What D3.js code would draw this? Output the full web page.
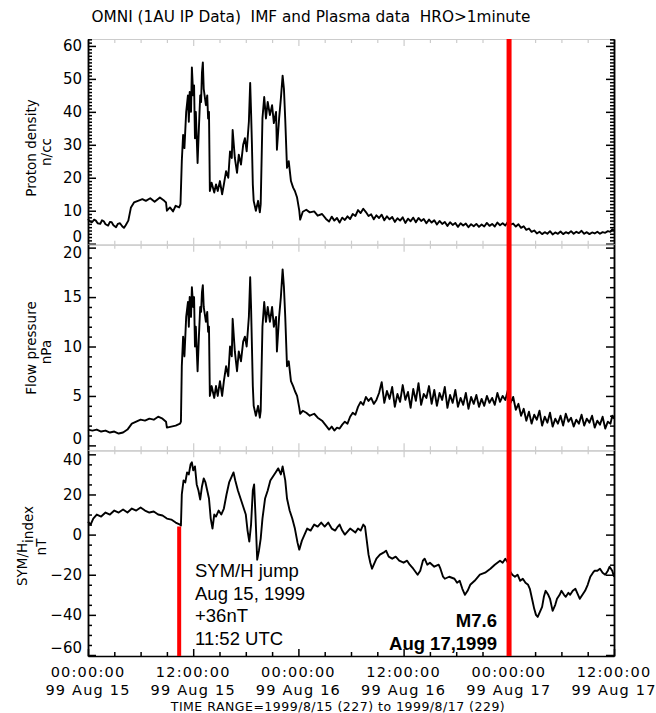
<!DOCTYPE html>
<html>
<head>
<meta charset="utf-8">
<script src="https://cdn.jsdelivr.net/npm/d3@7"></script>
<style>
  body { margin: 0; background: #fff; }
  svg { display: block; font-family: "DejaVu Sans", sans-serif; }
</style>
</head>
<body>
<svg id="chart" width="656" height="713"></svg>
<script>
// values: [hours since 1999-08-15 00:00 UT, value]
const density = [
  [0,7.5],[0.2,6.8],[0.46,6.5],[0.7,7.3],[0.9,7],[1.1,6.2],[1.4,6],[1.6,7.1],[1.8,6.8],[2.0,5.9],
  [2.3,5.5],[2.5,6.6],[2.7,6.5],[2.9,5.6],[3.2,5],[3.4,6.0],[3.65,6.2],[3.9,5.3],[4.1,4.8],[4.3,5.6],
  [4.6,7],[4.9,11],[5.25,12.5],[5.7,13],[6.2,13.5],[6.6,13],[7.1,13.8],[7.6,12.7],[8.2,14],[8.7,13],
  [8.9,12.5],[9.0,10],[9.35,11],[9.7,9.8],[10.0,11.5],[10.4,11],[10.55,12],[10.7,25],[10.85,33],[11.0,29],
  [11.2,40],[11.4,45],[11.5,37],[11.6,46],[11.75,40],[11.85,53.5],[12.0,45],[12.1,48],[12.2,32],[12.3,40],
  [12.5,24.5],[12.65,35],[12.8,45],[12.9,43],[13.0,52],[13.1,55],[13.2,47],[13.45,42],[13.6,45],[13.7,38],
  [13.8,40],[13.9,16],[14.1,18.5],[14.4,15.5],[14.6,18],[14.8,16],[15.05,19],[15.3,15],[15.5,18],[15.75,22],
  [16.0,20],[16.2,28],[16.4,26],[16.5,34.5],[16.75,26],[17.0,21.5],[17.2,27],[17.45,24],[17.7,30],[17.9,32],
  [18.1,28],[18.35,37],[18.5,48.8],[18.6,40],[18.7,30],[18.8,18],[18.9,13],[19.15,10],[19.4,13],[19.6,9.5],
  [19.7,12],[19.9,38],[20.1,44.5],[20.3,38],[20.5,43],[20.75,39],[21.0,42],[21.2,36.6],[21.45,40],[21.55,28.5],
  [21.8,38],[22.0,44],[22.2,51],[22.35,47],[22.5,37.6],[22.7,23],[22.9,25],[23.15,19],[23.4,17],[23.6,16],
  [23.85,14],[24.1,10],[24.2,7.3],[24.5,9.7],[24.9,10.3],[25.3,9.5],[25.8,9.8],[26.2,8.5],[26.7,9],[27.15,7.5],
  [27.5,6.7],[27.8,8.2],[28.1,7.0],[28.4,7.8],[28.7,6.4],[29.0,7.9],[29.3,7.2],[29.6,8.3],[29.9,7.5],[30.2,9.0],
  [30.5,8.4],[30.8,10.2],[31.1,9.3],[31.4,10.6],[31.7,9.6],[32.0,8.4],[32.3,8.9],[32.6,7.4],[32.9,8.6],[33.2,7.8],
  [33.5,8.8],[33.8,7.1],[34.1,8.3],[34.4,7.4],[34.7,8.1],[35.0,6.6],[35.3,7.7],[35.6,7.0],[35.9,8.0],[36.2,6.3],
  [36.5,7.6],[36.8,6.8],[37.1,7.9],[37.4,6.5],[37.7,7.8],[38.0,6.9],[38.3,7.5],[38.6,6.2],[38.9,7.3],[39.2,6.4],
  [39.5,7.1],[39.8,5.8],[40.1,6.9],[40.4,6.0],[40.7,6.6],[41.0,5.4],[41.3,6.5],[41.6,5.7],[41.9,6.3],[42.2,5.1],
  [42.5,6.2],[42.8,5.5],[43.1,6.1],[43.4,5.0],[43.7,5.9],[44.0,5.3],[44.3,6.0],[44.6,5.1],[44.9,5.8],[45.2,5.2],
  [45.5,6.3],[45.8,5.4],[46.1,6.0],[46.4,5.2],[46.7,6.4],[47.0,5.6],[47.3,6.2],[47.6,5.5],[47.9,6.6],[48.2,5.8],
  [48.5,6.1],[48.8,5.2],[49.1,5.9],[49.4,4.8],[49.7,5.3],[50.0,4.2],[50.3,4.6],[50.6,3.6],[50.9,4.0],[51.2,3.1],
  [51.5,3.6],[51.8,2.9],[52.1,3.5],[52.4,3.0],[52.7,3.8],[53.0,2.8],[53.3,3.4],[53.6,3.0],[53.9,3.7],[54.2,2.9],
  [54.5,3.5],[54.8,3.1],[55.1,3.8],[55.4,3.0],[55.7,3.6],[56.0,3.2],[56.3,3.9],[56.6,3.0],[56.9,3.5],[57.2,2.9],
  [57.5,3.4],[57.8,3.1],[58.1,3.6],[58.4,3.0],[58.7,3.5],[59.0,3.3],[59.3,3.8],[59.6,3.6],[59.8,4.4],[60,4.0]
];

const pressure = [
  [0,1.6],[0.5,1.5],[1,1.6],[1.5,1.4],[2,1.5],[2.5,1.3],[3,1.4],[3.5,1.2],[4,1.3],[4.5,1.6],
  [5,2.2],[5.5,2.4],[6,2.6],[6.5,2.5],[7,2.7],[7.5,2.6],[8,2.9],[8.5,2.7],[8.9,2.4],[9,1.8],
  [9.5,1.9],[10,2.0],[10.5,2.2],[10.6,2.4],[10.7,8],[10.85,11],[11,9],[11.2,13],[11.4,14.5],[11.5,12],
  [11.6,15],[11.75,13],[11.85,16],[12,14],[12.1,15],[12.2,10],[12.3,12],[12.5,7.5],[12.65,11],[12.8,14],
  [12.9,13.5],[13,15.5],[13.1,16.2],[13.2,14],[13.45,12.5],[13.6,13.5],[13.7,11.5],[13.8,12],[13.9,5],[14.1,6],
  [14.4,4.8],[14.6,6],[14.8,5],[15.05,6.5],[15.3,5],[15.5,6.5],[15.75,8],[16,7],[16.2,10],[16.4,9],
  [16.5,12.8],[16.75,9.5],[17,7.5],[17.2,9.5],[17.45,8.5],[17.7,10.5],[17.9,11],[18.1,10],[18.35,13],[18.5,17],
  [18.6,14],[18.7,10],[18.8,6],[18.9,4],[19.15,3],[19.4,4],[19.6,2.8],[19.7,3.5],[19.9,12],[20.1,14.5],
  [20.3,12.5],[20.5,14],[20.75,12.5],[21,14],[21.2,12],[21.45,13],[21.55,9.5],[21.8,13],[22,15],[22.2,17.8],
  [22.35,16],[22.5,13],[22.7,8],[22.9,8.5],[23.15,6.5],[23.4,6],[23.6,5.5],[23.85,5],[24.1,3.8],[24.2,3.2],
  [24.5,3.5],[24.9,3.3],[25.3,3.0],[25.8,3.2],[26.2,2.8],[26.7,2.5],[27.15,2.0],
  [27.5,1.6],[27.8,1.9],[28.1,1.5],[28.4,1.8],[28.7,1.7],[29.0,2.1],[29.3,2.4],[29.6,2.2],[29.9,2.9],[30.2,3.3],
  [30.5,3.1],[30.8,3.9],[31.1,4.4],[31.4,4.1],[31.7,4.9],[32.0,4.5],[32.3,4.8],[32.6,4.2],[32.9,4.6],[33.2,5.3],
  [33.5,6.4],[33.8,4.3],[34.1,5.5],[34.4,4.7],[34.7,5.9],[35.0,3.9],[35.3,5.2],[35.6,4.4],[35.9,6.1],[36.2,4.6],
  [36.5,5.4],[36.8,3.8],[37.1,5.7],[37.4,4.5],[37.7,6.3],[38.0,4.1],[38.3,5.2],[38.6,4.8],[38.9,6.0],[39.2,4.2],
  [39.5,5.6],[39.8,4.0],[40.1,5.3],[40.4,4.6],[40.7,5.9],[41.0,3.8],[41.3,5.1],[41.6,4.3],[41.9,5.6],[42.2,3.9],
  [42.5,4.8],[42.8,4.1],[43.1,5.3],[43.4,3.7],[43.7,4.9],[44.0,4.2],[44.3,5.1],[44.6,3.9],[44.9,4.7],[45.2,4.0],
  [45.5,5.0],[45.8,4.3],[46.1,4.8],[46.4,4.1],[46.7,5.3],[47.0,4.4],[47.3,5.0],[47.6,4.6],[47.9,5.6],[48.2,4.3],
  [48.5,4.9],[48.8,3.6],[49.1,4.2],[49.4,3.0],[49.7,3.7],[50.0,2.5],[50.3,3.4],[50.6,2.2],[50.9,3.1],[51.2,2.6],
  [51.5,3.5],[51.8,2.0],[52.1,2.9],[52.4,2.3],[52.7,3.3],[53.0,1.9],[53.3,2.7],[53.6,2.2],[53.9,3.0],[54.2,2.0],
  [54.5,3.2],[54.8,2.4],[55.1,2.8],[55.4,1.9],[55.7,2.6],[56.0,2.2],[56.3,3.1],[56.6,2.0],[56.9,2.7],[57.2,2.3],
  [57.5,3.0],[57.8,1.8],[58.1,2.5],[58.4,2.1],[58.7,2.9],[59.0,1.7],[59.3,2.4],[59.6,2.2],[59.8,3.0],[60,2.7]
];

const symh = [
  [0,6.5],[0.3,5],[0.6,8],[1,10],[1.5,9],[2,11],[2.5,10],[3,12],[3.5,11],[4,12.5],
  [4.5,11],[5,13],[5.5,12],[6,13.5],[6.5,12],[7,11],[7.5,11.5],[8,10],[8.5,9.5],[9,8],
  [9.5,7.5],[10,6],[10.5,5],[10.6,4.5],[10.7,20],[10.9,27],[11.1,26],[11.3,31],[11.5,30],[11.7,35],
  [11.85,36],[12,32],[12.2,34],[12.4,25],[12.6,22],[12.8,17.5],[13,24],[13.2,28],[13.4,26],[13.6,22],
  [13.8,18],[14,8],[14.2,3],[14.4,10],[14.6,9],[14.9,12],[15.2,10],[15.5,13],[15.8,20],[16.1,26],
  [16.4,29],[16.6,31],[16.8,27],[17.1,22],[17.4,18],[17.7,14],[18,10],[18.2,2],[18.4,-3.5],[18.6,5],
  [18.8,22],[18.95,25],[19.1,10],[19.3,-12.5],[19.5,-8],[19.7,-2],[19.9,8],[20.2,18],[20.5,22],[20.8,27],
  [21.1,29],[21.4,31],[21.7,33],[22,30],[22.2,34],[22.5,27],[22.7,18],[23,12],[23.3,8],[23.6,3],
  [23.9,-4],[24.1,-7.5],[24.4,-3],[24.7,0],[25,3],[25.4,2],[25.8,5],[26.2,4],[26.6,6],[27,4],
  [27.4,6],[27.8,3],[28.2,2],[28.5,4],[28.7,5],[29.0,2],[29.3,0],[29.6,1.5],[29.9,3],[30.2,2],
  [30.5,1],[30.8,3],[31.1,2],[31.4,5],[31.6,4],[31.8,-3],[32,-10],[32.2,-14],[32.4,-17],[32.6,-15],
  [32.9,-12],[33.1,-11],[33.3,-10],[33.7,-9],[34,-8],[34.3,-11],[34.7,-12],[35.1,-11],[35.5,-13],[36,-14],
  [36.4,-13],[36.7,-15],[37.1,-17],[37.6,-20],[37.9,-18],[38.2,-13],[38.4,-12],[38.7,-15],[39,-14],[39.5,-16],
  [40,-15],[40.2,-17],[40.5,-21],[40.7,-22],[41.2,-21],[41.8,-22],[42.1,-24],[42.4,-23],[42.7,-27],[43,-30],
  [43.3,-28],[43.6,-25],[44.1,-23],[44.7,-20],[45.3,-19],[45.9,-17],[46.4,-15],[47,-13],[47.3,-14],[47.6,-12],
  [47.9,-14],[48.1,-18],[48.4,-20],[48.7,-21],[49,-20],[49.3,-23],[49.6,-22],[49.9,-24],[50.2,-25],[50.4,-27],
  [50.7,-33],[50.9,-37],[51.1,-40],[51.3,-41],[51.6,-38],[51.8,-36],[52,-31],[52.2,-28],[52.5,-30],[52.7,-32],
  [52.9,-36],[53,-38],[53.3,-35],[53.5,-32],[53.8,-30],[54,-28],[54.3,-30],[54.5,-31],[54.8,-29],[55,-30],
  [55.3,-28],[55.6,-27],[55.9,-30],[56.1,-32],[56.4,-30],[56.7,-28],[57,-25],[57.3,-21],[57.6,-19],[57.8,-18],
  [58.1,-18],[58.4,-17],[58.7,-19],[59,-20],[59.3,-18],[59.5,-16],[59.8,-18],[60,-21]
];

const xTickHours = [0, 12, 24, 36, 48, 60];
const xTickTimes = ['00:00:00', '12:00:00', '00:00:00', '12:00:00', '00:00:00', '12:00:00'];
const xTickDates = ['99 Aug 15', '99 Aug 15', '99 Aug 16', '99 Aug 16', '99 Aug 17', '99 Aug 17'];

const jumpHour = 10.4;     // red marker in the SYM/H panel
const jumpLevel = 4;
const quakeHour = 48.03;   // Izmit earthquake
const jumpNote = ['SYM/H jump', 'Aug 15, 1999', '+36nT', '11:52 UTC'];
const quakeNote = ['M7.6', 'Aug 17,1999'];

const svg = d3.select('#chart');
svg.append('rect').attr('width', 656).attr('height', 713).attr('fill', '#fff');

const plotL = 88, plotR = 614, plotT = 39, plotB = 656;
const ph = (plotB - plotT) / 3;

const x = d3.scaleLinear().domain([0, 60]).range([plotL, plotR]);

const panels = [
  { data: density, domain: [-0.3, 62.1], major: 10, minor: 1, title: ['Proton density', 'n/cc'], cy: 148 },
  { data: pressure, domain: [-0.5, 20.3], major: 5, minor: 1, title: ['Flow pressure', 'nPa'], cy: 348 },
  { data: symh, domain: [-60.5, 42], major: 20, minor: 5, title: ['SYM/H', 'nT'], cy: 546 }
];

const steps = (lo, hi, s) => d3.range(Math.ceil(lo / s) * s, hi + 1e-9, s);
const grey = '#cccccc';
const xMinor = d3.range(0, 61, 3).filter(h => h % 12 !== 0);

panels.forEach((p, i) => {
  const y0 = plotT + i * ph, y1 = y0 + ph;
  const y = d3.scaleLinear().domain(p.domain).range([y1, y0]);
  p.y = y;
  const majors = steps(p.domain[0], p.domain[1], p.major);
  const minors = steps(p.domain[0], p.domain[1], p.minor).filter(v => !majors.some(m => Math.abs(m - v) < 1e-9));

  // x ticks along the top and bottom edges of each panel
  const isLast = i === panels.length - 1;
  [[y0, d3.axisTop, 1], [y1, d3.axisBottom, -1]].forEach(([yy, ax, dir]) => {
    const col = (isLast && dir === -1) ? '#000' : grey;
    const gx = svg.append('g').attr('transform', `translate(0,${yy})`);
    gx.append('g').call(ax(x).tickValues(xTickHours).tickSize(-7).tickSizeOuter(0).tickFormat(''));
    gx.append('g').call(ax(x).tickValues(xMinor).tickSize(-4).tickSizeOuter(0).tickFormat(''))
      .call(g => g.select('.domain').remove());
    gx.selectAll('path, line').attr('stroke', col).attr('stroke-width', col === grey ? 1.2 : 1.5);
  });

  // y axes, left and right, ticks pointing inward
  [[plotL, d3.axisLeft], [plotR, d3.axisRight]].forEach(([xx, ax]) => {
    const gy = svg.append('g').attr('transform', `translate(${xx},0)`);
    gy.append('g').call(ax(y).tickValues(minors).tickSize(-4).tickSizeOuter(0).tickFormat(''));
    const gm = gy.append('g').call(ax(y).tickValues(majors).tickSize(-8).tickSizeOuter(0)
      .tickFormat(xx === plotL ? d3.format('d') : '').tickPadding(6));
    gy.selectAll('path, line').attr('stroke', '#000').attr('stroke-width', 1.5);
    gm.selectAll('text').attr('font-size', 15).attr('font-family', '"DejaVu Sans", sans-serif')
      .attr('fill', '#000');
    if (xx === plotL) {
      gm.selectAll('text')
        .text(d => d3.format('d')(d).replace('-', '\u2212'))
        .attr('dy', d => (y(d) > y1 - 5 ? '-0.15em' : y(d) < y0 + 5 ? '0.65em' : '0.32em'));
    }
  });

  // panel title
  const t = svg.append('g').attr('transform', `translate(0,${p.cy}) rotate(-90)`)
    .attr('font-size', 13.5).attr('text-anchor', 'middle').attr('fill', '#000');
  if (i < 2) {
    t.append('text').attr('x', 0).attr('y', 36).text(p.title[0]);
    t.append('text').attr('x', -4).attr('y', 51).text(p.title[1]);
  } else {
    const tt = t.append('text').attr('x', 0).attr('y', 27);
    tt.append('tspan').text(p.title[0]);
    tt.append('tspan').attr('dy', 6).text('index');
    t.append('text').attr('x', -1).attr('y', 46).text(p.title[1]);
  }

  // data trace
  svg.append('path').datum(p.data)
    .attr('fill', 'none').attr('stroke', '#000').attr('stroke-width', 1.9)
    .attr('stroke-linejoin', 'round')
    .attr('d', d3.line().x(d => x(d[0])).y(d => y(d[1])));
});

// time labels under the bottom axis
const lab = svg.append('g').attr('font-size', 14.5).attr('letter-spacing', 1.2)
  .attr('text-anchor', 'middle').attr('fill', '#000');
xTickHours.forEach((h, k) => {
  lab.append('text').attr('x', x(h)).attr('y', 677).text(xTickTimes[k]);
  lab.append('text').attr('x', x(h)).attr('y', 694.5).text(xTickDates[k]);
});
svg.append('text').attr('x', 338).attr('y', 711).attr('text-anchor', 'middle')
  .attr('font-size', 12.5).attr('letter-spacing', 0.5)
  .text('TIME RANGE=1999/8/15 (227) to 1999/8/17 (229)');

// title
svg.append('text').attr('x', 311).attr('y', 22).attr('text-anchor', 'middle')
  .attr('font-size', 15.3).attr('xml:space', 'preserve')
  .text('OMNI (1AU IP Data)  IMF and Plasma data  HRO>1minute');

// red markers
const yS = panels[2].y;
svg.append('line').attr('x1', x(jumpHour)).attr('x2', x(jumpHour))
  .attr('y1', yS(jumpLevel)).attr('y2', plotB).attr('stroke', '#ff0000').attr('stroke-width', 4);
svg.append('line').attr('x1', x(quakeHour)).attr('x2', x(quakeHour))
  .attr('y1', plotT).attr('y2', plotB).attr('stroke', '#ff0000').attr('stroke-width', 5);

// annotations
const n1 = svg.append('g').attr('font-family', '"Liberation Sans", Arial, sans-serif')
  .attr('font-size', 18.5).attr('fill', '#000');
jumpNote.forEach((s, k) => n1.append('text').attr('x', 195).attr('y', 577 + k * 22.5).text(s));
const n2 = svg.append('g').attr('font-family', '"Liberation Sans", Arial, sans-serif')
  .attr('font-size', 18.5).attr('font-weight', 'bold').attr('text-anchor', 'end').attr('fill', '#000');
quakeNote.forEach((s, k) => n2.append('text').attr('x', 497).attr('y', 627 + k * 22.5).text(s));
</script>
</body>
</html>
